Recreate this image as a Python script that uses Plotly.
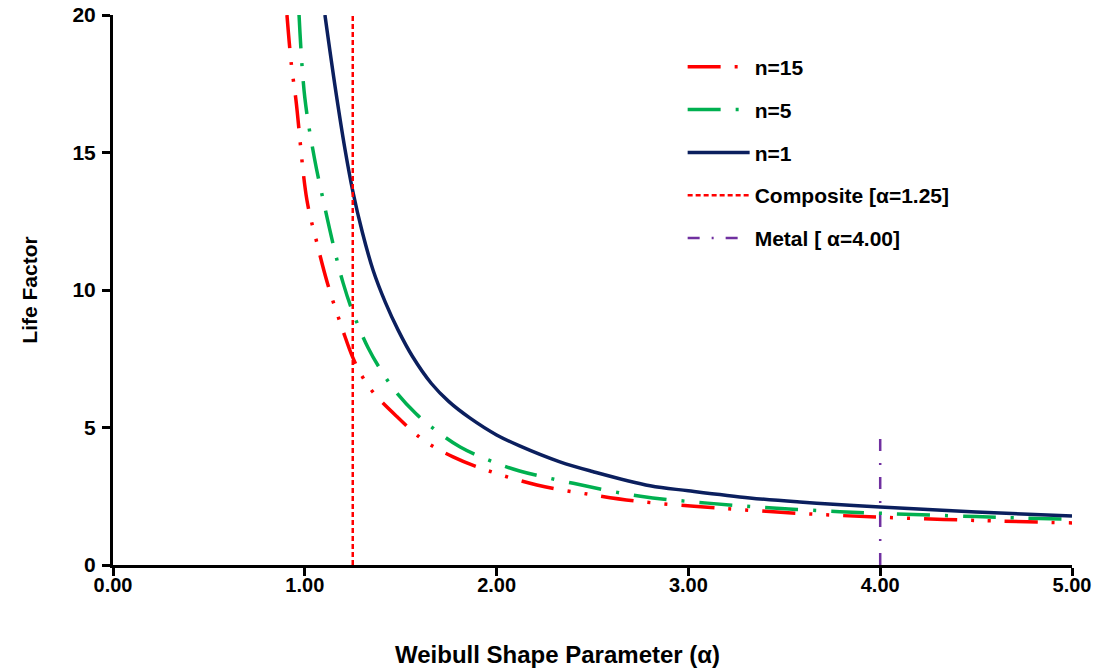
import plotly.graph_objects as go

# Weibull shape parameter (alpha) and life factor for each sample size n
alpha_n15 = [0.907, 0.93, 0.954, 1.011, 1.06, 1.12, 1.20, 1.25, 1.30, 1.36, 1.48,
             1.617, 1.773, 1.93, 2.21, 2.50, 2.73, 3.16, 3.62, 4.00, 4.50, 5.00]
lf_n15 = [20.0, 18.2, 16.9, 13.27, 11.8, 10.2, 8.5, 7.55, 6.85, 6.25, 5.4,
          4.55, 3.93, 3.49, 2.91, 2.55, 2.32, 2.07, 1.86, 1.74, 1.62, 1.53]

alpha_n5 = [0.97, 1.00, 1.05, 1.096, 1.15, 1.20, 1.25, 1.33, 1.40, 1.48, 1.58,
            1.668, 1.81, 2.00, 2.12, 2.40, 2.75, 3.10, 3.44, 3.79, 4.00, 4.50, 5.00]
lf_n5 = [20.0, 17.0, 14.8, 13.27, 11.6, 10.25, 9.2, 7.9, 7.05, 6.25, 5.5,
         4.98, 4.29, 3.7, 3.42, 2.97, 2.50, 2.25, 2.07, 1.94, 1.88, 1.76, 1.66]

alpha_n1 = [1.105, 1.16, 1.21, 1.25, 1.30, 1.357, 1.42, 1.486, 1.56, 1.66, 1.75,
            1.86, 2.00, 2.12, 2.33, 2.50, 2.80, 3.00, 3.32, 3.58, 3.84, 4.00, 4.50, 5.00]
lf_n1 = [20.0, 17.3, 15.1, 13.6, 12.1, 10.7, 9.55, 8.55, 7.6, 6.6, 5.95,
         5.35, 4.73, 4.33, 3.75, 3.40, 2.88, 2.70, 2.44, 2.29, 2.17, 2.11, 1.93, 1.78]

# Reference shape parameters for the two materials
composite_alpha = 1.25
composite_y = [0, 20]
metal_alpha = 4.00
metal_y = [0, 5]

x_ticks = [0, 1, 2, 3, 4, 5]
x_tick_text = ["0.00", "1.00", "2.00", "3.00", "4.00", "5.00"]
y_ticks = [0, 5, 10, 15, 20]

RED = "#FF0000"
GREEN = "#00B050"
NAVY = "#0B1F5E"
PURPLE = "#7030A0"
FONT = "Liberation Sans, Arial, sans-serif"

fig = go.Figure()

fig.add_trace(go.Scatter(
    x=alpha_n15, y=lf_n15, mode="lines", name="n=15", legendgroup="a",
    line=dict(color=RED, width=3.5, shape="spline", smoothing=1.0,
              dash="33px,14px,3px,14px,3px,14px"),
))
fig.add_trace(go.Scatter(
    x=alpha_n5, y=lf_n5, mode="lines", name="n=5", legendgroup="b",
    line=dict(color=GREEN, width=3.5, shape="spline", smoothing=1.0,
              dash="33px,15px,3px,15px"),
))
fig.add_trace(go.Scatter(
    x=alpha_n1, y=lf_n1, mode="lines", name="n=1", legendgroup="c",
    line=dict(color=NAVY, width=3.5, shape="spline", smoothing=1.0),
))
fig.add_trace(go.Scatter(
    x=[composite_alpha] * len(composite_y), y=composite_y, mode="lines",
    name="Composite [α=1.25]", legendgroup="d",
    line=dict(color=RED, width=2.5, dash="5px,3px"),
))
fig.add_trace(go.Scatter(
    x=[metal_alpha] * len(metal_y), y=metal_y, mode="lines",
    name="Metal [ α=4.00]", legendgroup="e",
    line=dict(color=PURPLE, width=2.5, dash="12px,12px,2px,12px"),
))

fig.update_layout(
    width=1101, height=670,
    margin=dict(l=113, r=29, t=15, b=105),
    paper_bgcolor="white", plot_bgcolor="white",
    showlegend=True,
    legend=dict(
        x=0.594, y=0.9425, xanchor="left", yanchor="top",
        font=dict(family=FONT, size=21, color="black", weight="bold"),
        bgcolor="rgba(0,0,0,0)", tracegroupgap=12.5, itemwidth=62,
    ),
    xaxis=dict(
        range=[0, 5], tickvals=x_ticks, ticktext=x_tick_text,
        showgrid=False, zeroline=False, automargin=False,
        showline=True, linecolor="black", linewidth=3,
        ticks="outside", ticklen=8, tickwidth=3, tickcolor="black",
        ticklabelstandoff=-8,
        tickfont=dict(family=FONT, size=20, color="black", weight="bold"),
    ),
    yaxis=dict(
        range=[0, 20], tickvals=y_ticks,
        showgrid=False, zeroline=False, automargin=False,
        showline=True, linecolor="black", linewidth=3,
        ticks="outside", ticklen=8, tickwidth=3, tickcolor="black",
        ticklabelstandoff=2,
        tickfont=dict(family=FONT, size=21, color="black", weight="bold"),
        title=dict(text="Life Factor", standoff=30,
                   font=dict(family=FONT, size=21, color="black", weight="bold")),
    ),
    annotations=[dict(
        text="Weibull Shape Parameter (α)", xref="paper", yref="paper",
        x=0.463, y=-0.1636, xanchor="center", yanchor="middle", showarrow=False,
        font=dict(family=FONT, size=24, color="black", weight="bold"),
    )],
)

fig.write_html("out.html")
